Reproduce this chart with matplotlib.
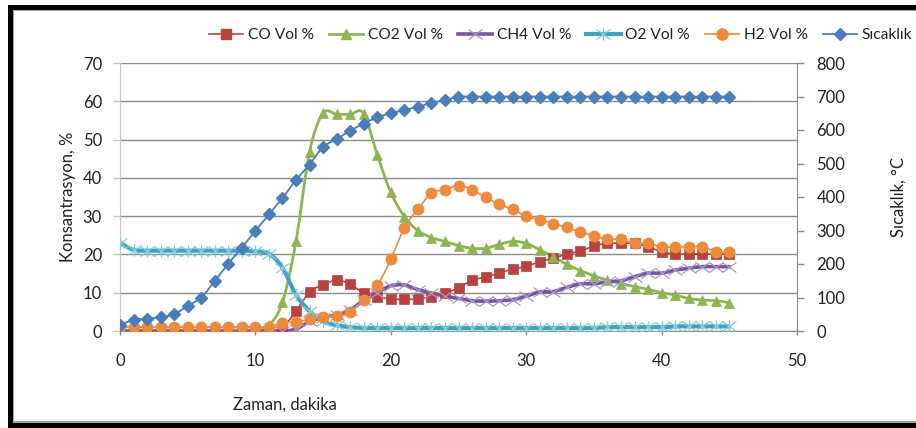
import numpy as np
import matplotlib
matplotlib.use("Agg")
import matplotlib.pyplot as plt
from matplotlib.path import Path
from matplotlib.lines import Line2D
from matplotlib.patches import Rectangle

plt.rcParams['font.family'] = ['Lato', 'DejaVu Sans']

# ---- data -------------------------------------------------------------
zaman = list(range(46))  # dakika

co = [0, 0, 0, 0, 0, 0, 0, 0, 0, 0, 0,
      0, 1.0, 5.2, 10.2, 12.0, 13.3, 12.2, 9.9, 9.0, 8.3,
      8.3, 8.3, 9.0, 10.0, 11.2, 13.3, 14.0, 15.2, 16.1, 16.9,
      18.1, 19.0, 20.1, 20.9, 22.2, 22.9, 22.9, 22.9, 22.0, 20.7,
      20.1, 20.1, 20.1, 20.1, 20.1]

co2 = [0, 0, 0, 0, 0, 0, 0, 0, 0, 0, 0,
       1.5, 7.5, 23.5, 46.8, 56.9, 56.6, 56.6, 56.8, 46.0, 36.2,
       29.9, 26.2, 24.4, 23.4, 22.3, 21.6, 21.6, 22.6, 23.4, 22.9,
       21.2, 19.4, 17.4, 15.8, 14.4, 13.3, 12.4, 11.6, 10.9, 10.0,
       9.4, 8.5, 8.1, 7.9, 7.4]

ch4 = [0, 0, 0, 0, 0, 0, 0, 0, 0, 0, 0,
       0, 0, 0.5, 2.5, 3.5, 4.2, 5.5, 8.0, 10.0, 11.8,
       12.0, 10.8, 9.9, 9.1, 8.5, 7.9, 7.8, 7.9, 8.2, 9.1,
       10.2, 10.3, 11.4, 12.3, 12.3, 12.9, 13.1, 14.2, 15.1, 15.1,
       15.9, 16.4, 16.8, 16.8, 16.8]

o2 = [23.0, 21.2, 21.0, 21.0, 21.0, 21.0, 21.0, 21.0, 21.0, 21.0, 20.8,
      20.2, 16.5, 9.5, 5.2, 2.5, 1.5, 1.0, 0.8, 0.8, 0.8,
      0.8, 0.8, 0.8, 0.8, 0.8, 0.8, 0.8, 0.8, 0.8, 0.8,
      0.8, 0.8, 0.8, 0.8, 0.8, 1.0, 1.0, 1.0, 1.0, 1.0,
      1.2, 1.2, 1.2, 1.2, 1.2]

h2 = [1.0, 1.0, 1.0, 1.0, 1.0, 1.0, 1.0, 1.0, 1.0, 1.0, 1.0,
      1.0, 2.2, 2.3, 3.1, 3.7, 3.9, 4.9, 8.2, 11.9, 18.7,
      27.0, 31.8, 36.0, 36.9, 38.0, 36.9, 34.9, 33.1, 31.8, 30.0,
      29.1, 28.0, 27.1, 25.8, 24.9, 24.0, 24.0, 22.9, 22.9, 22.0,
      22.0, 22.0, 22.0, 20.7, 20.7]

sicaklik = [18, 33, 37, 41, 50, 75, 100, 149, 201, 249, 299,
            348, 397, 451, 497, 549, 573, 598, 619, 638, 650,
            659, 670, 680, 690, 699, 700, 700, 700, 700, 700,
            700, 700, 700, 700, 700, 700, 700, 700, 700, 700,
            700, 700, 700, 700, 700]

x_ticks = [0, 10, 20, 30, 40, 50]
y_left_ticks = [0, 10, 20, 30, 40, 50, 60, 70]
y_right_ticks = [0, 100, 200, 300, 400, 500, 600, 700, 800]


# ---- helpers ------------------------------------------------------------
def smooth(x, y, n=16):
    """Bezier smoothing through every point (spreadsheet-style smoothed line)."""
    p = np.column_stack([np.asarray(x, float), np.asarray(y, float)])
    pp = np.vstack([p[0], p, p[-1]])
    out = [p[0]]
    s = np.linspace(0, 1, n + 1)[1:, None]
    for i in range(len(p) - 1):
        p0, p1, p2, p3 = pp[i], pp[i + 1], pp[i + 2], pp[i + 3]
        c1 = p1 + (p2 - p0) / 6.0
        c2 = p2 - (p3 - p1) / 6.0
        seg = ((1 - s) ** 3) * p1 + 3 * ((1 - s) ** 2) * s * c1 \
            + 3 * (1 - s) * s ** 2 * c2 + s ** 3 * p2
        out.extend(seg)
    out = np.array(out)
    return out[:, 0], out[:, 1]


cross = Path([(-1, -0.72), (1, 0.72), (-1, 0.72), (1, -0.72)],
             [Path.MOVETO, Path.LINETO, Path.MOVETO, Path.LINETO])
star = Path([(-1, -0.72), (1, 0.72), (-1, 0.72), (1, -0.72), (0, -0.9), (0, 0.9)],
            [Path.MOVETO, Path.LINETO, Path.MOVETO, Path.LINETO,
             Path.MOVETO, Path.LINETO])

C_CO = '#B8423F'
C_CO2 = '#8DB553'
C_CH4 = '#7358A0'
C_CH4_M = '#A898C8'
C_O2 = '#3FA3BF'
C_O2_M = '#86CBDD'
C_H2 = '#EE8A3C'
C_T = '#4A7EBB'
TXT = '#222222'

W, H = 916, 428
fig = plt.figure(figsize=(W / 100, H / 100), dpi=100)
fig.patch.set_facecolor('white')

L, R, B, T = 120, 797, 331, 63
ax = fig.add_axes([L / W, 1 - B / H, (R - L) / W, (B - T) / H])
ax2 = ax.twinx()

FS = 12
LFS = 11.2

# ---- primary axis series ------------------------------------------------
series = [
    (co, C_CO, 1.2, 's', 6.5, C_CO, 1.0),
    (co2, C_CO2, 2.0, '^', 7.5, C_CO2, 1.0),
    (ch4, C_CH4, 2.6, cross, 10, C_CH4_M, 0.9),
    (o2, C_O2, 3.0, star, 10, C_O2_M, 0.9),
    (h2, C_H2, 1.2, 'o', 8, C_H2, 1.0),
]
for vals, col, lw, mk, ms, mcol, mew in series:
    sx, sy = smooth(zaman, vals)
    ax.plot(sx, sy, color=col, lw=lw, solid_capstyle='round', zorder=3)
    if mk in (cross, star):
        ax.plot(zaman, vals, ls='none', marker=mk, ms=ms, mfc='none',
                mec=mcol, mew=mew, zorder=3.5)
    else:
        ax.plot(zaman, vals, ls='none', marker=mk, ms=ms, mfc=mcol,
                mec=mcol, mew=0.5, zorder=3.5)

# ---- secondary axis series ---------------------------------------------
tx, ty = smooth(zaman, sicaklik)
ax2.plot(tx, ty, color=C_T, lw=1.3, zorder=3)
ax2.plot(zaman, sicaklik, ls='none', marker='D', ms=6.5, mfc=C_T, mec=C_T,
         zorder=3.5)

# ---- axes styling -------------------------------------------------------
ax.set_xlim(0, 50)
ax.set_ylim(0, 70)
ax2.set_ylim(0, 800)
ax.set_xticks(x_ticks)
ax.set_yticks(y_left_ticks)
ax2.set_yticks(y_right_ticks)

grid_c = '#8C8C8C'
ax.grid(axis='y', color=grid_c, lw=1.0)
ax.grid(axis='x', visible=False)
ax.set_axisbelow(True)

ax.spines['top'].set_visible(False)
ax2.spines['top'].set_visible(False)
ax.spines['left'].set_color('#C8C8C8')
ax.spines['bottom'].set_color(grid_c)
ax2.spines['right'].set_color(grid_c)
for sp in ('left', 'bottom'):
    ax2.spines[sp].set_visible(False)
ax.spines['right'].set_visible(False)

ax.tick_params(axis='y', length=5, width=1, color='#C8C8C8', labelsize=FS,
               pad=8, labelcolor=TXT)
ax.tick_params(axis='x', length=6, width=1, color=grid_c, labelsize=FS,
               pad=13, direction='inout', labelcolor=TXT)
ax2.tick_params(axis='y', length=5, width=1, color=grid_c, labelsize=FS,
                pad=9, labelcolor=TXT)

ax.set_ylabel('Konsantrasyon, %', fontsize=FS, color=TXT)
ax.yaxis.set_label_coords((76 - L) / (R - L), 0.5)
ax2.set_ylabel('Sıcaklık, °C', fontsize=FS, color=TXT)
ax2.yaxis.set_label_coords((891 - L) / (R - L), 0.5)
fig.text(285 / W, 1 - 405 / H, 'Zaman, dakika', fontsize=FS, ha='center',
         va='center', color=TXT)

# ---- legend -------------------------------------------------------------
handles = [
    Line2D([], [], color=C_CO, lw=1.2, marker='s', ms=6.5, mfc=C_CO, mec=C_CO),
    Line2D([], [], color=C_CO2, lw=2.0, marker='^', ms=7.5, mfc=C_CO2, mec=C_CO2),
    Line2D([], [], color=C_CH4, lw=2.6, marker=cross, ms=10, mfc='none',
           mec=C_CH4_M, mew=0.9),
    Line2D([], [], color=C_O2, lw=3.0, marker=star, ms=10, mfc='none',
           mec=C_O2_M, mew=0.9),
    Line2D([], [], color=C_H2, lw=1.2, marker='o', ms=8, mfc=C_H2, mec=C_H2),
    Line2D([], [], color=C_T, lw=1.3, marker='D', ms=6.5, mfc=C_T, mec=C_T),
]
labels = ['CO Vol %', 'CO2 Vol %', 'CH4 Vol %', 'O2 Vol %', 'H2 Vol %', 'Sıcaklık']
leg = fig.legend(handles, labels, loc='center left',
                 bbox_to_anchor=(209 / W, 1 - 35 / H), ncol=6, frameon=False,
                 fontsize=LFS, handlelength=2.2, handletextpad=0.3,
                 columnspacing=0.97, borderpad=0, borderaxespad=0)
for t in leg.get_texts():
    t.set_color(TXT)

# ---- chart border -------------------------------------------------------
def px_rect(x0, y0, x1, y1, color):
    fig.add_artist(Rectangle((x0 / W, 1 - y1 / H), (x1 - x0) / W, (y1 - y0) / H,
                             transform=fig.transFigure, facecolor=color,
                             edgecolor='none', zorder=10))

px_rect(8, 5, 12.5, 428, 'black')
px_rect(8, 5, 916, 9.5, 'black')
px_rect(8, 422.5, 916, 428, 'black')
px_rect(12.5, 9.5, 14, 421.5, '#A0A0A0')
px_rect(12.5, 9.5, 916, 11, '#A0A0A0')
px_rect(12.5, 420.5, 916, 422.5, '#A0A0A0')

fig.savefig('out.png', dpi=100)
